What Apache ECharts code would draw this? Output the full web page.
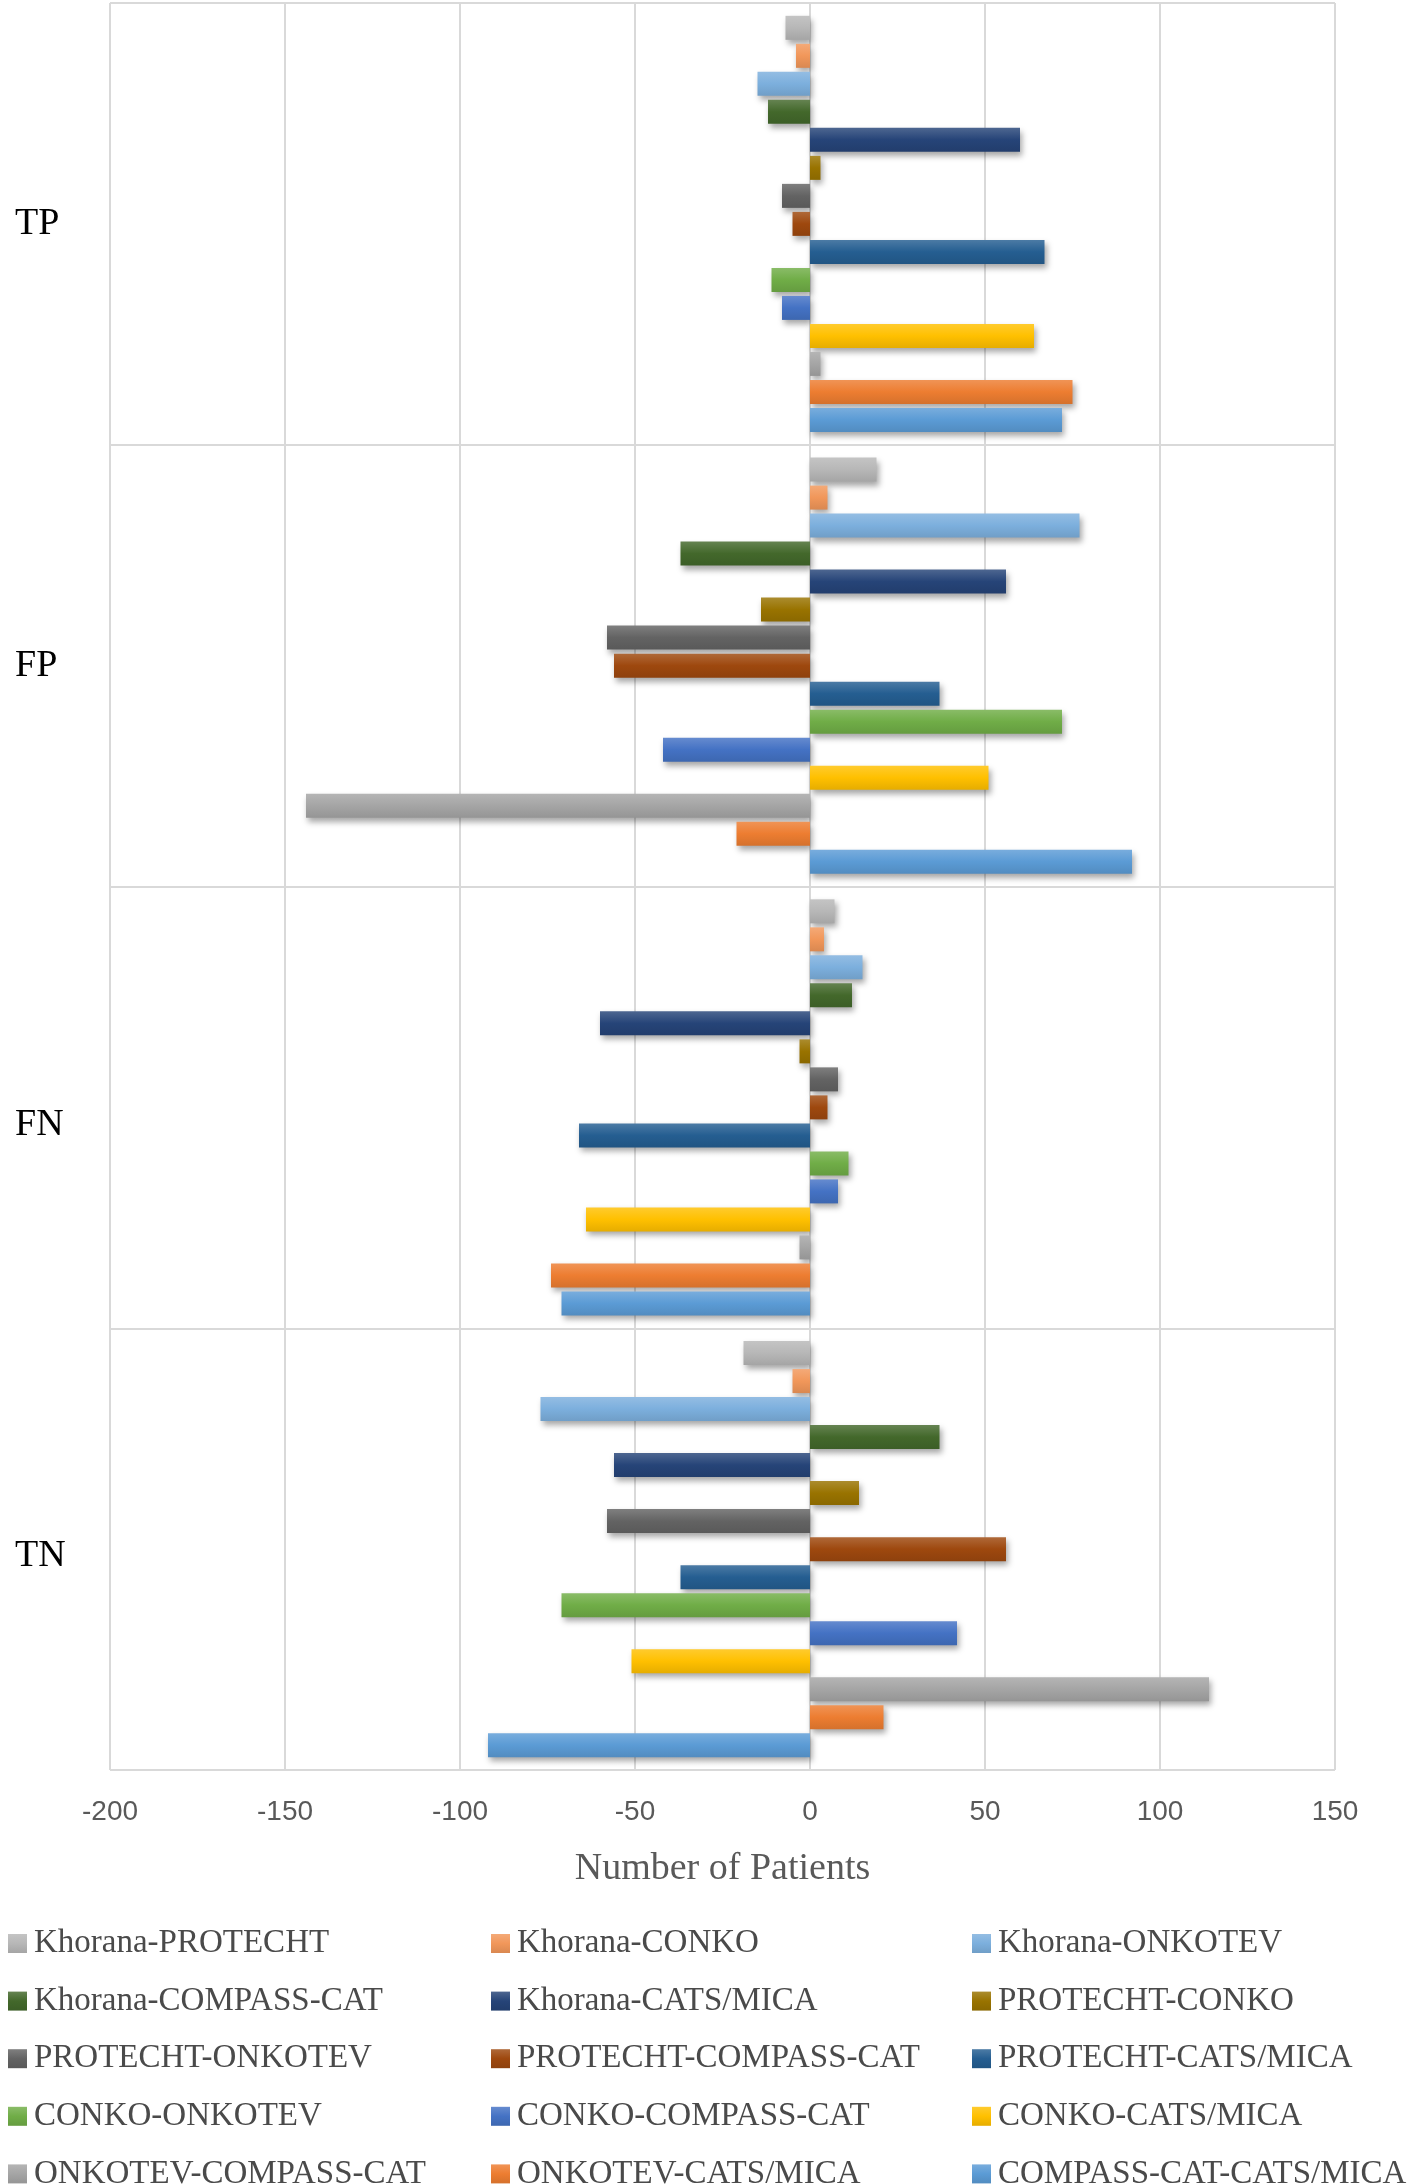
<!DOCTYPE html>
<html>
<head>
<meta charset="utf-8">
<script src="https://cdn.jsdelivr.net/npm/echarts@6/dist/echarts.min.js"></script>
<style>
html,body{margin:0;padding:0;background:#fff;}
#chart{width:1418px;height:2184px;}
</style>
</head>
<body>
<div id="chart"></div>
<script>
const categories = ['TP', 'FP', 'FN', 'TN'];
const seriesNames = [
  'Khorana-PROTECHT', 'Khorana-CONKO', 'Khorana-ONKOTEV',
  'Khorana-COMPASS-CAT', 'Khorana-CATS/MICA', 'PROTECHT-CONKO',
  'PROTECHT-ONKOTEV', 'PROTECHT-COMPASS-CAT', 'PROTECHT-CATS/MICA',
  'CONKO-ONKOTEV', 'CONKO-COMPASS-CAT', 'CONKO-CATS/MICA',
  'ONKOTEV-COMPASS-CAT', 'ONKOTEV-CATS/MICA', 'COMPASS-CAT-CATS/MICA'
];
// values per category, in series order
const tpValues = [-7, -4, -15, -12, 60, 3, -8, -5, 67, -11, -8, 64, 3, 75, 72];
const fpValues = [19, 5, 77, -37, 56, -14, -58, -56, 37, 72, -42, 51, -144, -21, 92];
const fnValues = [7, 4, 15, 12, -60, -3, 8, 5, -66, 11, 8, -64, -3, -74, -71];
const tnValues = [-19, -5, -77, 37, -56, 14, -58, 56, -37, -71, 42, -51, 114, 21, -92];
const xTicks = [-200, -150, -100, -50, 0, 50, 100, 150];

const seriesColors = [
  '#B7B7B7', '#F1975A', '#7CAFDD', '#43682B', '#264478', '#997300',
  '#636363', '#9E480E', '#255E91', '#70AD47', '#4472C4', '#FFC000',
  '#A5A5A5', '#ED7D31', '#5B9BD5'
];

function shade(hex, f) {
  const n = parseInt(hex.slice(1), 16);
  let r = (n >> 16) & 255, g = (n >> 8) & 255, b = n & 255;
  if (f >= 0) { r += (255 - r) * f; g += (255 - g) * f; b += (255 - b) * f; }
  else { r *= (1 + f); g *= (1 + f); b *= (1 + f); }
  return 'rgb(' + Math.round(r) + ',' + Math.round(g) + ',' + Math.round(b) + ')';
}
function grad(hex) {
  return new echarts.graphic.LinearGradient(0, 0, 0, 1, [
    { offset: 0, color: shade(hex, 0.18) },
    { offset: 0.5, color: hex },
    { offset: 1, color: shade(hex, -0.1) }
  ]);
}

const valuesByCat = [tpValues, fpValues, fnValues, tnValues];
const series = seriesNames.map((name, i) => ({
  name: name,
  type: 'bar',
  barWidth: 24,
  barGap: '16.7%',
  data: valuesByCat.map(arr => arr[i]),
  itemStyle: {
    color: grad(seriesColors[i]),
    shadowColor: 'rgba(0,0,0,0.35)',
    shadowBlur: 6,
    shadowOffsetX: 2,
    shadowOffsetY: 4
  },
  emphasis: { disabled: true }
}));

const legendCols = [0, 1, 2].map(c => seriesNames.filter((n, i) => i % 3 === c));
const legendLefts = [3, 486, 967];
const legends = legendCols.map((data, c) => ({
  orient: 'vertical',
  left: legendLefts[c],
  top: 1922,
  height: 400,
  width: 470,
  data: data,
  icon: 'rect',
  itemWidth: 19,
  itemHeight: 19,
  itemGap: 24.6,
  selectedMode: false,
  itemStyle: { shadowBlur: 0, shadowOffsetX: 0, shadowOffsetY: 0 },
  textStyle: {
    fontFamily: 'Liberation Serif',
    fontSize: 33,
    lineHeight: 33,
    color: '#4a4a4a',
    padding: [0, 0, 0, 2]
  }
}));

const labelShift = { TP: 0, FP: 0, FN: 36, TN: 14 };
const richStyles = {};
categories.forEach(c => {
  richStyles[c] = {
    fontFamily: 'Liberation Serif',
    fontSize: 38,
    color: '#000000',
    padding: [labelShift[c], 0, 0, 0]
  };
});

const chart = echarts.init(document.getElementById('chart'), null, { renderer: 'canvas' });
chart.setOption({
  backgroundColor: '#ffffff',
  animation: false,
  grid: { left: 110, right: 83, top: 3, bottom: 414, containLabel: false },
  legend: legends,
  xAxis: {
    type: 'value',
    min: xTicks[0],
    max: xTicks[xTicks.length - 1],
    interval: 50,
    axisLine: { show: false },
    axisTick: { show: false },
    axisLabel: {
      margin: 28,
      fontFamily: 'Liberation Sans',
      fontSize: 28,
      color: '#595959'
    },
    splitLine: { show: true, lineStyle: { color: '#D9D9D9', width: 2 } },
    name: 'Number of Patients',
    nameLocation: 'middle',
    nameGap: 80,
    nameTextStyle: {
      fontFamily: 'Liberation Serif',
      fontSize: 38,
      color: '#595959'
    }
  },
  yAxis: {
    type: 'category',
    data: categories,
    inverse: true,
    axisLine: { show: false },
    axisTick: { show: false },
    axisLabel: {
      margin: 95,
      align: 'left',
      fontFamily: 'Liberation Serif',
      fontSize: 38,
      color: '#000000',
      formatter: v => '{' + v + '|' + v + '}',
      rich: richStyles
    },
    splitLine: { show: true, lineStyle: { color: '#D9D9D9', width: 2 } }
  },
  series: series
});
</script>
</body>
</html>
